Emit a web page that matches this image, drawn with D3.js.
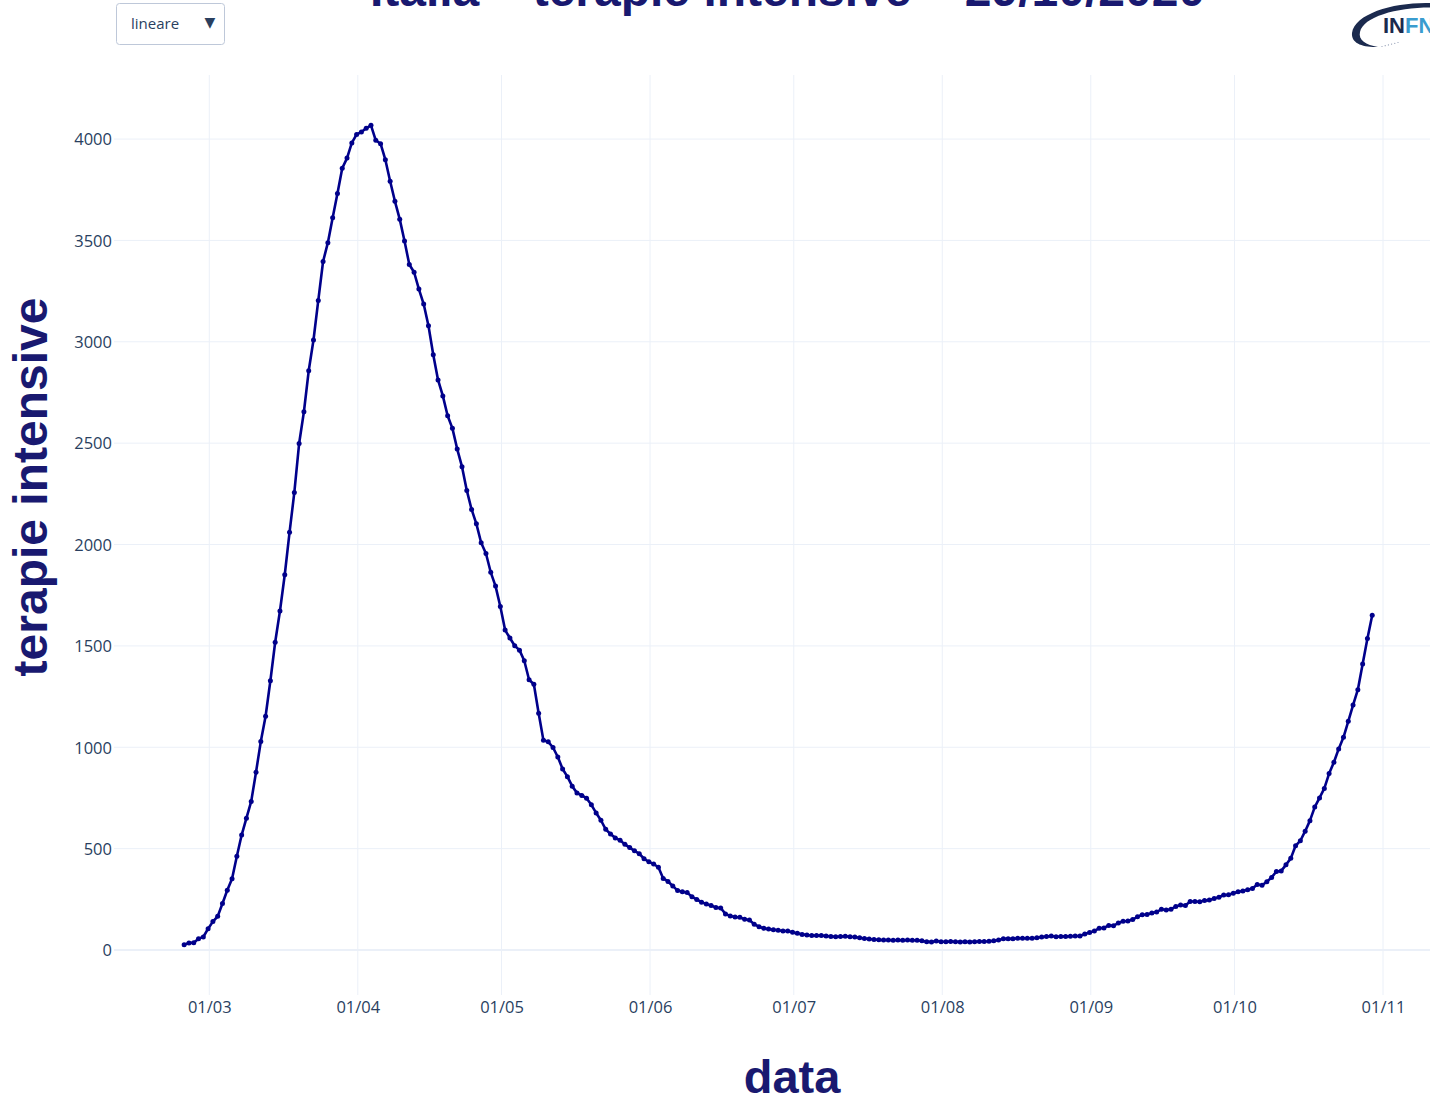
<!DOCTYPE html>
<html>
<head>
<meta charset="utf-8">
<script src="https://cdn.jsdelivr.net/npm/d3@7"></script>
<style>
  html, body { margin: 0; padding: 0; background: #fff; }
  svg { display: block; }
</style>
</head>
<body>
<svg id="chart" width="1430" height="1100"></svg>
<script>
// Terapie intensive in Italia, valori giornalieri (ore 18:00), 24/02/2020 – 29/10/2020
const firstDay = "2020-02-24";
const febValues = [26, 35, 36, 56, 64, 105];
const marValues = [140, 166, 229, 295, 351, 462, 567, 650, 733, 877, 1028, 1153, 1328, 1518, 1672, 1851,
  2060, 2257, 2498, 2655, 2857, 3009, 3204, 3396, 3489, 3612, 3732, 3856, 3906, 3981, 4023];
const aprValues = [4035, 4053, 4068, 3994, 3977, 3898, 3792, 3693, 3605, 3497, 3381, 3343, 3260, 3186, 3079,
  2936, 2812, 2733, 2635, 2573, 2471, 2384, 2267, 2173, 2102, 2009, 1956, 1863, 1795, 1694];
const mayValues = [1578, 1539, 1501, 1479, 1427, 1333, 1311, 1168, 1034, 1027, 999, 952, 893, 855, 808, 775,
  762, 749, 716, 676, 640, 595, 572, 553, 541, 521, 505, 489, 475, 450, 435];
const junValues = [424, 408, 353, 338, 316, 293, 287, 283, 263, 249, 236, 227, 220, 209, 207, 178, 168, 163,
  161, 152, 148, 127, 115, 107, 103, 100, 97, 94, 94, 87];
const julValues = [82, 77, 74, 72, 71, 71, 69, 67, 65, 66, 68, 65, 64, 60, 57, 54, 52, 50, 49, 49, 48, 49,
  48, 49, 48, 48, 45, 41, 40, 44, 41];
const augValues = [41, 42, 41, 40, 41, 40, 41, 42, 42, 43, 45, 49, 55, 56, 55, 58, 58, 58, 58, 60, 64, 66,
  69, 65, 66, 67, 68, 69, 69, 79, 86];
const sepValues = [94, 107, 109, 121, 120, 133, 142, 143, 150, 164, 174, 175, 182, 187, 201, 197, 201, 215,
  222, 220, 239, 239, 238, 244, 246, 254, 260, 271, 272, 280];
const octValues = [287, 291, 297, 303, 323, 319, 337, 358, 387, 390, 420, 452, 514, 539, 586, 638, 705, 750,
  797, 870, 926, 992, 1049, 1128, 1208, 1284, 1411, 1536, 1651];

const xTickLabels = ["01/03", "01/04", "01/05", "01/06", "01/07", "01/08", "01/09", "01/10", "01/11"];
const yTickValues = [0, 500, 1000, 1500, 2000, 2500, 3000, 3500, 4000];

const chartTitle = "Italia – terapie intensive – 29/10/2020";
const xTitle = "data";
const yTitle = "terapie intensive";
const scaleOptions = ["lineare"];

// ---- build the series ----
const allValues = [].concat(febValues, marValues, aprValues, mayValues, junValues,
  julValues, augValues, sepValues, octValues);
const start = new Date(firstDay + "T18:00:00Z");
const series = allValues.map((v, i) => ({ date: d3.utcDay.offset(start, i), value: v }));

const parseTick = d3.utcParse("%d/%m/%Y");
const xTickDates = xTickLabels.map(t => parseTick(t + "/2020"));

// ---- layout ----
const plot = { left: 114, right: 1440, top: 75, bottom: 995 };
const ink = "#191970";
const tickColor = "#2a3f5f";
const gridColor = "#EBF0F8";
const lineColor = "#00008b";

const svg = d3.select("#chart");

// time scale anchored on the first and last month ticks, extended to the plot edges
const xAnchor = d3.scaleUtc()
  .domain([xTickDates[0], xTickDates[xTickDates.length - 1]])
  .range([209.3, 1383]);
const x = d3.scaleUtc()
  .domain([xAnchor.invert(plot.left), xAnchor.invert(plot.right)])
  .range([plot.left, plot.right]);

const y = d3.scaleLinear()
  .domain([-222, 4316])
  .range([plot.bottom, plot.top]);

// ---- grid ----
const grid = svg.append("g");
grid.selectAll("line.vg").data(xTickDates).join("line")
  .attr("class", "vg")
  .attr("x1", d => x(d)).attr("x2", d => x(d))
  .attr("y1", plot.top).attr("y2", plot.bottom)
  .attr("stroke", gridColor).attr("stroke-width", 1);
grid.selectAll("line.hg").data(yTickValues).join("line")
  .attr("class", "hg")
  .attr("x1", plot.left).attr("x2", plot.right)
  .attr("y1", d => y(d)).attr("y2", d => y(d))
  .attr("stroke", gridColor).attr("stroke-width", d => d === 0 ? 2 : 1);

// ---- axes ----
const xAxis = d3.axisBottom(x)
  .tickValues(xTickDates)
  .tickFormat((d, i) => xTickLabels[i])
  .tickSize(0).tickPadding(0);
const gx = svg.append("g")
  .attr("transform", `translate(0,${plot.bottom})`)
  .call(xAxis);
gx.select(".domain").remove();
gx.selectAll("text")
  .attr("dy", null).attr("y", 17.5)
  .attr("fill", tickColor)
  .style("font-family", "'Open Sans', 'Noto Sans', sans-serif")
  .style("font-size", "16.5px");

const yAxis = d3.axisLeft(y)
  .tickValues(yTickValues)
  .tickFormat(d3.format("d"))
  .tickSize(0).tickPadding(0);
const gy = svg.append("g")
  .attr("transform", `translate(${plot.left - 2},0)`)
  .call(yAxis);
gy.select(".domain").remove();
gy.selectAll("text")
  .attr("fill", tickColor)
  .attr("dy", "0.35em")
  .style("font-family", "'Open Sans', 'Noto Sans', sans-serif")
  .style("font-size", "16.5px");

// ---- series ----
const line = d3.line()
  .x(d => x(d.date))
  .y(d => y(d.value));

svg.append("path")
  .datum(series)
  .attr("d", line)
  .attr("fill", "none")
  .attr("stroke", lineColor)
  .attr("stroke-width", 2.6)
  .attr("stroke-linejoin", "round");

svg.append("g").selectAll("circle").data(series).join("circle")
  .attr("cx", d => x(d.date))
  .attr("cy", d => y(d.value))
  .attr("r", 2.5)
  .attr("fill", lineColor);

// ---- titles ----
svg.append("text")
  .attr("x", 787.5).attr("y", 6)
  .attr("text-anchor", "middle")
  .attr("fill", ink)
  .style("font-family", "'Liberation Sans', Arial, sans-serif")
  .style("font-weight", "bold")
  .style("font-size", "48px")
  .text(chartTitle);

svg.append("text")
  .attr("x", 792).attr("y", 1093)
  .attr("text-anchor", "middle")
  .attr("fill", ink)
  .style("font-family", "'Liberation Sans', Arial, sans-serif")
  .style("font-weight", "bold")
  .style("font-size", "47px")
  .text(xTitle);

svg.append("text")
  .attr("transform", "translate(47,487) rotate(-90)")
  .attr("text-anchor", "middle")
  .attr("fill", ink)
  .style("font-family", "'Liberation Sans', Arial, sans-serif")
  .style("font-weight", "bold")
  .style("font-size", "48px")
  .text(yTitle);

// ---- scale selector ----
const menu = svg.append("g").attr("transform", "translate(116.5,3.5)");
menu.append("rect")
  .attr("width", 108).attr("height", 41).attr("rx", 3)
  .attr("fill", "#fff").attr("stroke", "#BEC8D9").attr("stroke-width", 1);
menu.append("text")
  .attr("x", 14.5).attr("y", 25)
  .attr("fill", tickColor)
  .style("font-family", "'Open Sans', 'Noto Sans', sans-serif")
  .style("font-size", "15px")
  .text(scaleOptions[0]);
menu.append("text")
  .attr("x", 93.5).attr("y", 23)
  .attr("text-anchor", "middle")
  .attr("fill", tickColor)
  .style("font-family", "'DejaVu Sans', sans-serif")
  .style("font-size", "14px")
  .text("▼");

// ---- INFN mark ----
const logo = svg.append("g");
logo.append("path")
  .attr("d", "M1430,3 C1395,2 1355,13 1352,33 C1351,43 1362,47.5 1378,47 C1366,45 1358,40 1360,32 C1363,17 1396,7.5 1430,7.5 Z")
  .attr("fill", "#1b2a4e");
logo.selectAll("circle.trail").data([0, 1, 2, 3, 4, 5]).join("circle")
  .attr("class", "trail")
  .attr("cx", d => 1382 + d * 3.2)
  .attr("cy", d => 46.5 - d * 0.8)
  .attr("r", 0.6)
  .attr("fill", "#8a97b0");
const logoText = logo.append("text")
  .attr("x", 1383).attr("y", 33)
  .style("font-family", "'Liberation Sans', Arial, sans-serif")
  .style("font-size", "22px")
  .style("font-weight", "600");
logoText.append("tspan").attr("fill", "#1b2a4e").text("IN");
logoText.append("tspan").attr("fill", "#3a9ccf").text("FN");
</script>
</body>
</html>
